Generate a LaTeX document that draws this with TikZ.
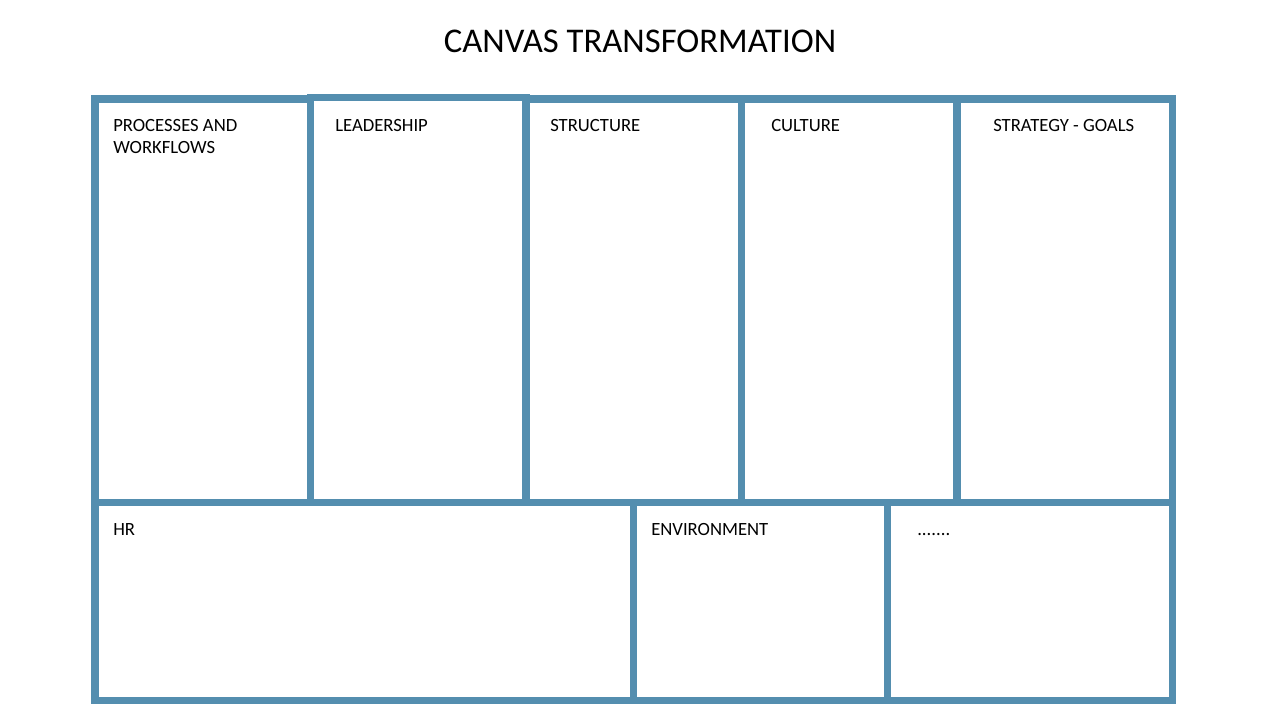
\documentclass[tikz,border=0pt]{standalone}
\usepackage{fontspec}
\setmainfont{Carlito}
\usetikzlibrary{positioning}
\definecolor{frame}{RGB}{84,142,175}

\begin{document}
\begin{tikzpicture}[
x=0.75pt, y=-0.75pt,            % one unit = one pixel, y going down
node distance=0pt,
 cell/.style = {rectangle, draw=frame, line width=5.6pt,% boxes of the canvas
                inner sep=0pt, outer sep=0pt,
                minimum width=161.625pt, minimum height=302.625pt},
  low/.style = {cell, minimum height=148.5pt},% boxes of the lower row
  lbl/.style = {anchor=base west, inner sep=0pt, align=left,% base = last line
                font=\fontsize{14}{16.5}\selectfont},
                        ]
\useasboundingbox (0,0) rectangle (1280,720);
\node[font=\fontsize{26}{31}\selectfont] (title) at (640,41) {CANVAS TRANSFORMATION};

% upper row
\node[cell, anchor=north west] (proc) at (95,99) {};
\node[cell, minimum height=303.75pt, right=of proc.south east, anchor=south west] (lead) {};
\node[cell, right=of lead.south east, anchor=south west] (struc) {};
\node[cell, right=of struc.south east, anchor=south west] (cult) {};
\node[cell, right=of cult.south east, anchor=south west] (strat) {};

% lower row
\node[low, minimum width=403.875pt, below=of proc.south west, anchor=north west] (hr) {};
\node[low, minimum width=190.5pt, right=of hr.north east, anchor=north west] (env) {};
\node[low, minimum width=213.75pt, right=of env.north east, anchor=north west] (more) {};

% texts
\node[lbl] (proc-t)  at ([shift={(18,55)}]proc.north west)  {PROCESSES AND\\WORKFLOWS};
\node[lbl] (lead-t)  at ([shift={(24.5,34.5)}]lead.north west) {LEADERSHIP};
\node[lbl] (struc-t) at ([shift={(24,33)}]struc.north west) {STRUCTURE};
\node[lbl] (cult-t)  at ([shift={(29.5,33)}]cult.north west) {CULTURE};
\node[lbl] (strat-t) at ([shift={(36,33)}]strat.north west) {STRATEGY - GOALS};
\node[lbl] (hr-t)    at ([shift={(18,33)}]hr.north west)    {HR};
\node[lbl] (env-t)   at ([shift={(17.5,33)}]env.north west)  {ENVIRONMENT};
\node[lbl] (more-t)  at ([shift={(29.5,33)}]more.north west) {.......};

\end{tikzpicture}
\end{document}
